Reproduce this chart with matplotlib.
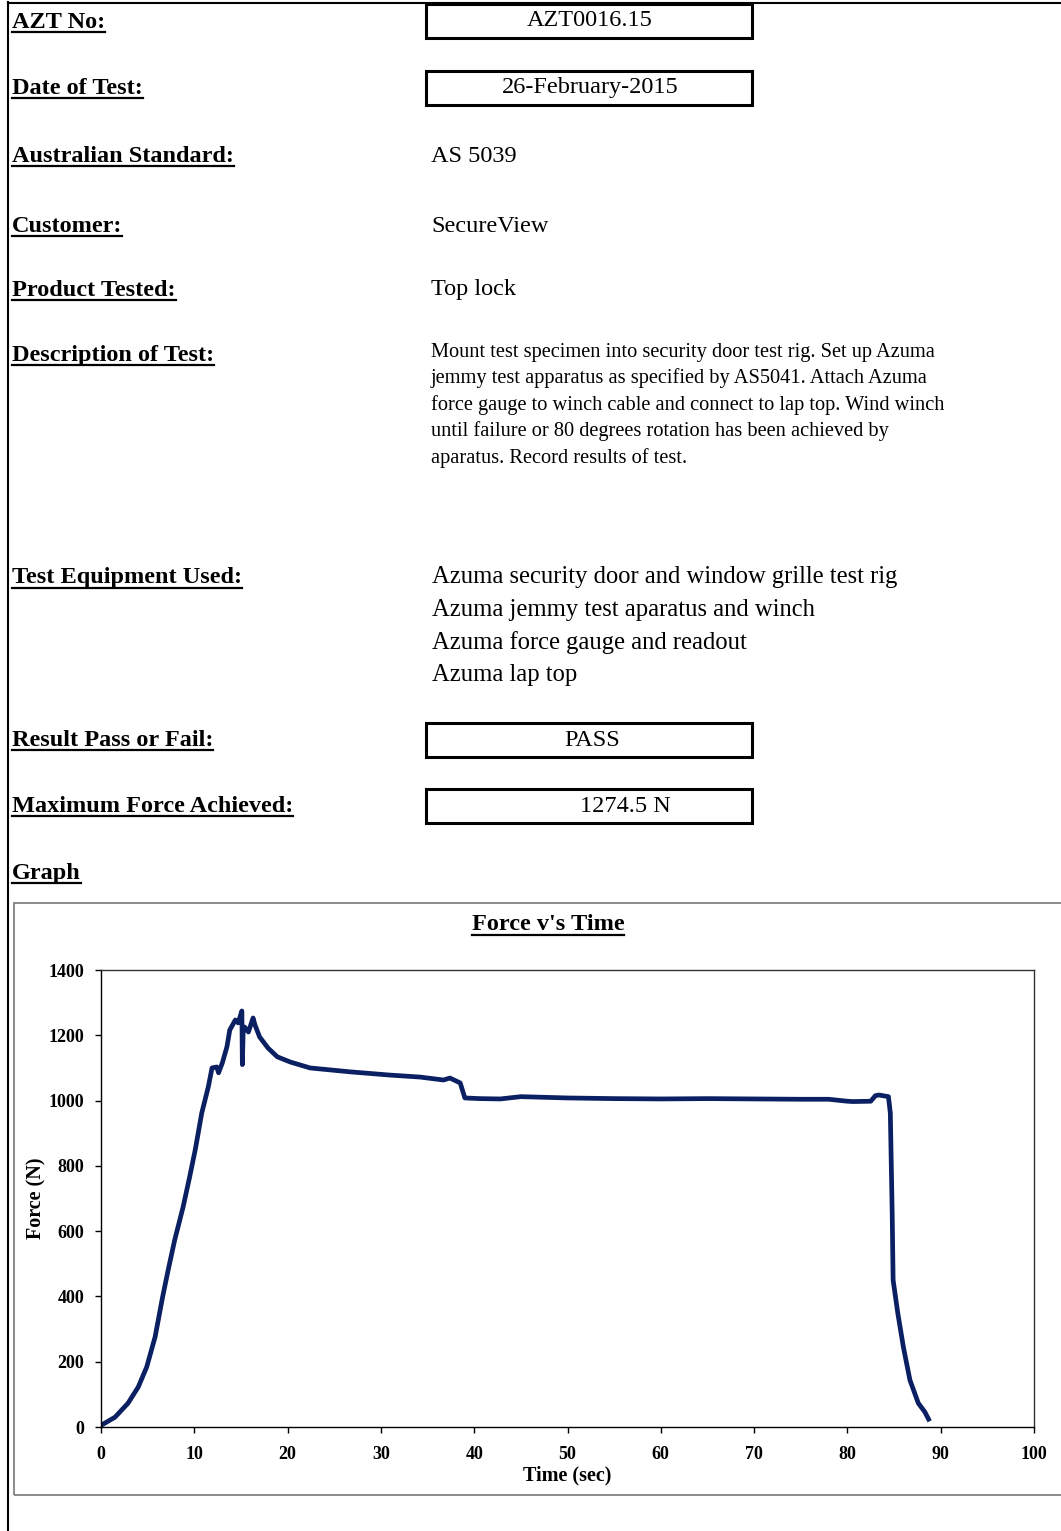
import numpy as np
import matplotlib
matplotlib.use('Agg')
import matplotlib.pyplot as plt
from matplotlib.patches import Rectangle
from matplotlib.lines import Line2D

plt.rcParams['font.family'] = ['Liberation Serif', 'DejaVu Serif']

W, H = 1061, 1531

# Данні кривої
time_s = [0, 1.5, 2.9, 4.0, 4.9, 5.8, 6.6, 7.2, 7.9, 8.8, 9.5, 10.1, 10.8, 11.5,
          11.9, 12.4, 12.6, 13.0, 13.5, 13.8, 14.4, 14.7, 15.1, 15.15, 15.25,
          15.4, 15.8, 16.3, 16.5, 17.0, 17.9, 18.9, 20.3, 22.4, 26.7, 31.0,
          34.2, 36.7, 37.4, 38.5, 39.0, 40.6, 42.8, 45.0, 50.0, 55.0, 60.0,
          65.0, 70.0, 75.0, 78.0, 80.0, 80.6, 82.5, 83.0, 83.4, 84.4, 84.6,
          84.8, 84.9, 85.4, 86.0, 86.7, 87.6, 88.3, 88.7]
force_n = [5, 30, 73, 123, 184, 276, 398, 481, 573, 674, 766, 849, 962, 1042,
           1100, 1103, 1085, 1115, 1165, 1216, 1247, 1238, 1274.5, 1110, 1225,
           1225, 1210, 1253, 1232, 1195, 1161, 1134, 1118, 1100, 1088, 1078,
           1072, 1063, 1069, 1054, 1008, 1006, 1005, 1012, 1008, 1006, 1005,
           1006, 1005, 1004, 1004, 998, 997, 998, 1015, 1017, 1012, 962,
           656, 450, 349, 245, 144, 73, 46, 24]

x_ticks = [0, 10, 20, 30, 40, 50, 60, 70, 80, 90, 100]
y_ticks = [0, 200, 400, 600, 800, 1000, 1200, 1400]

labels = ['AZT No:', 'Date of Test:', 'Australian Standard:', 'Customer:',
          'Product Tested:', 'Description of Test:', 'Test Equipment Used:',
          'Result Pass or Fail:', 'Maximum Force Achieved:', 'Graph']
label_y = [22, 88, 156, 226, 290, 355, 578, 740, 806, 873]

plain_values = [('AS 5039', 156), ('SecureView', 226), ('Top lock', 290)]
boxed_values = [('AZT0016.15', 4, 590), ('26-February-2015', 71, 590),
                ('PASS', 723, 592), ('1274.5 N', 789, 625)]

description = ['Mount test specimen into security door test rig. Set up Azuma',
               'jemmy test apparatus as specified by AS5041. Attach Azuma',
               'force gauge to winch cable and connect to lap top. Wind winch',
               'until failure or 80 degrees rotation has been achieved by',
               'aparatus. Record results of test.']
equipment = ['Azuma security door and window grille test rig',
             'Azuma jemmy test aparatus and winch',
             'Azuma force gauge and readout',
             'Azuma lap top']


def fx(x):
    return x / W


def fy(y):
    return 1 - y / H


fig = plt.figure(figsize=(W / 100, H / 100), dpi=100)
fig.patch.set_facecolor('white')

# рамка документа
fig.add_artist(Line2D([fx(8), fx(8)], [0, fy(2)], color='black', lw=1.5))
fig.add_artist(Line2D([fx(8), 1], [fy(3), fy(3)], color='black', lw=1.5))

underlined = []
for text, y in zip(labels, label_y):
    t = fig.text(fx(12), fy(y), text, fontsize=17.5, fontweight='bold',
                 va='center', ha='left')
    underlined.append(t)

for text, y in plain_values:
    fig.text(fx(431), fy(y), text, fontsize=17.5, va='center', ha='left')

for text, top, cx in boxed_values:
    fig.add_artist(Rectangle((fx(426), fy(top + 34)), fx(326), 34 / H,
                             fill=False, edgecolor='black', lw=2.2))
    fig.text(fx(cx), fy(top + 17), text, fontsize=17.5, va='center', ha='center')

for i, line in enumerate(description):
    fig.text(fx(431), fy(352 + i * 26.5), line, fontsize=14.7,
             va='center', ha='left')

for i, line in enumerate(equipment):
    fig.text(fx(432), fy(577 + i * 32.7), line, fontsize=17.7,
             va='center', ha='left')

# рамка графіка
fig.add_artist(Rectangle((fx(14), fy(1495)), fx(1080), (1495 - 903) / H,
                         fill=False, edgecolor='#777777', lw=1.2))

title = fig.text(fx(548), fy(925), "Force v's Time", fontsize=17.5,
                 fontweight='bold', va='center', ha='center')
underlined.append(title)

ax = fig.add_axes([fx(101), fy(1427), (1034 - 101) / W, (1427 - 970) / H])
ax.plot(time_s, force_n, color='#0b1f63', lw=3.4, solid_joinstyle='round')
ax.set_xlim(0, 100)
ax.set_ylim(0, 1400)
ax.set_xticks(x_ticks)
ax.set_yticks(y_ticks)
ax.tick_params(direction='out', length=4, width=1, labelsize=13)
for lab in ax.get_xticklabels() + ax.get_yticklabels():
    lab.set_fontweight('bold')
ax.tick_params(axis='x', pad=10)
ax.tick_params(axis='y', pad=8)
for s in ax.spines.values():
    s.set_linewidth(1.0)
    s.set_color('#333333')
ax.spines['left'].set_color('black')
ax.spines['bottom'].set_color('black')
ax.set_xlabel('Time (sec)', fontsize=14.5, fontweight='bold')
ax.set_ylabel('Force (N)', fontsize=14.5, fontweight='bold')
ax.xaxis.set_label_coords(0.5, (1427 - 1465) / 457)
ax.yaxis.set_label_coords((46 - 101) / 933, 0.5)

# підкреслення
fig.canvas.draw()
r = fig.canvas.get_renderer()
for t in underlined:
    bb = t.get_window_extent(renderer=r)
    y0 = bb.y0 + 1
    fig.add_artist(Line2D([bb.x0 / W, bb.x1 / W], [y0 / H, y0 / H],
                          color='black', lw=1.6))

fig.savefig('out.png', dpi=100)
